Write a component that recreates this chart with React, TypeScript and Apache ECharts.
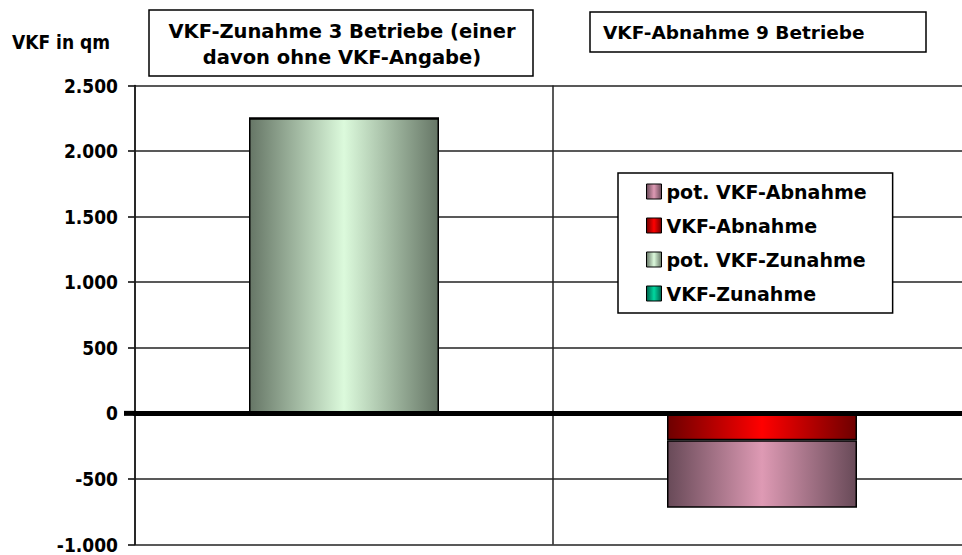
import React, { useEffect, useRef } from "react";
import * as echarts from "echarts";

const categories = ["VKF-Zunahme", "VKF-Abnahme"];
const vkfZunahme = [0, 0];
const potZunahme = [2250, 0];
const vkfAbnahme = [0, -205];
const potAbnahme = [0, -515];
const yMin = -1000;
const yMax = 2500;
const yStep = 500;
const legendOrder = ["pot. VKF-Abnahme", "VKF-Abnahme", "pot. VKF-Zunahme", "VKF-Zunahme"];
const boxText1 = "VKF-Zunahme 3 Betriebe (einer\ndavon ohne VKF-Angabe)";
const boxText2 = "VKF-Abnahme 9 Betriebe";
const axisTitle = "VKF in qm";

const grad = (edge: string, mid: string) =>
  new echarts.graphic.LinearGradient(0, 0, 1, 0, [
    { offset: 0, color: edge },
    { offset: 0.5, color: mid },
    { offset: 1, color: edge },
  ]);

const fmt = (v: number) => {
  const s = Math.abs(v).toString().replace(/\B(?=(\d{3})+(?!\d))/g, ".");
  return (v < 0 ? "-" : "") + s;
};

const FONT = "DejaVu Sans";

export default function App() {
  const ref = useRef<HTMLDivElement>(null);
  useEffect(() => {
    if (!ref.current) return;
    const chart = echarts.init(ref.current, null, { renderer: "svg" });
    const barStyle = (edge: string, mid: string) => ({
      color: grad(edge, mid),
      borderColor: "#000",
      borderWidth: 1.5,
    });
    chart.setOption({
      animation: false,
      backgroundColor: "#fff",
      grid: { left: 135, top: 85.5, width: 836, height: 459, containLabel: false },
      legend: {
        orient: "vertical",
        left: 618,
        top: 173,
        data: legendOrder,
        backgroundColor: "#fff",
        borderColor: "#000",
        borderWidth: 1.5,
        padding: [9, 26, 10, 28],
        itemWidth: 15,
        itemHeight: 15,
        itemGap: 15,
        icon: "rect",
        itemStyle: { borderColor: "#000", borderWidth: 1 },
        textStyle: { fontFamily: FONT, fontWeight: "bold", fontSize: 19, color: "#000" },
        z: 10,
      },
      xAxis: {
        type: "category",
        data: categories,
        z: 5,
        axisLine: { show: true, onZero: true, lineStyle: { color: "#000", width: 5 } },
        axisTick: { show: false },
        axisLabel: { show: false },
        splitLine: { show: true, lineStyle: { color: "#222", width: 1.5 } },
      },
      yAxis: {
        type: "value",
        min: yMin,
        max: yMax,
        interval: yStep,
        axisLine: { show: true, lineStyle: { color: "#000", width: 1.5 } },
        axisTick: { show: true, length: 7, lineStyle: { color: "#000", width: 1.5 } },
        axisLabel: {
          margin: 17,
          formatter: fmt,
          fontFamily: "DejaVu Sans Condensed",
          fontWeight: "bold",
          fontSize: 19,
          color: "#000",
        },
        splitLine: { show: true, lineStyle: { color: "#222", width: 1.5 } },
      },
      series: [
        { name: "VKF-Zunahme", type: "bar", stack: "s", barWidth: 190, data: vkfZunahme, itemStyle: barStyle("#00604a", "#00d8a0") },
        { name: "pot. VKF-Zunahme", type: "bar", stack: "s", barWidth: 190, data: potZunahme, itemStyle: barStyle("#667666", "#dcfadc") },
        { name: "VKF-Abnahme", type: "bar", stack: "s", barWidth: 190, data: vkfAbnahme, itemStyle: barStyle("#6e0000", "#ff0000") },
        { name: "pot. VKF-Abnahme", type: "bar", stack: "s", barWidth: 190, data: potAbnahme, itemStyle: barStyle("#684a58", "#de9ab4") },
      ],
    });
    const y0 = chart.convertToPixel({ yAxisIndex: 0 }, 0) as number;
    chart.setOption({
      graphic: [
        { type: "rect", z: 20, shape: { x: 124, y: y0 - 2.5, width: 12, height: 5 }, style: { fill: "#000" } },
        { type: "text", z: 20, x: 12, y: 42, style: { text: axisTitle, font: `bold 19px "DejaVu Sans Condensed"`, fill: "#000", verticalAlign: "middle", align: "left" } },
        { type: "rect", z: 20, shape: { x: 149, y: 10, width: 384, height: 66 }, style: { fill: "#fff", stroke: "#000", lineWidth: 1.5 } },
        { type: "text", z: 21, x: 342, y: 44, style: { text: boxText1, font: `bold 19.5px "${FONT}"`, lineHeight: 26, fill: "#000", align: "center", verticalAlign: "middle" } },
        { type: "rect", z: 20, shape: { x: 590, y: 12, width: 336, height: 40 }, style: { fill: "#fff", stroke: "#000", lineWidth: 1.5 } },
        { type: "text", z: 21, x: 603, y: 32, style: { text: boxText2, font: `bold 18.5px "${FONT}"`, fill: "#000", align: "left", verticalAlign: "middle" } },
      ],
    });
    return () => chart.dispose();
  }, []);
  return (
    <div style={{ position: "absolute", left: 0, top: 0, width: 962, height: 555, overflow: "hidden" }}>
      <div ref={ref} style={{ width: 990, height: 555 }} />
    </div>
  );
}
